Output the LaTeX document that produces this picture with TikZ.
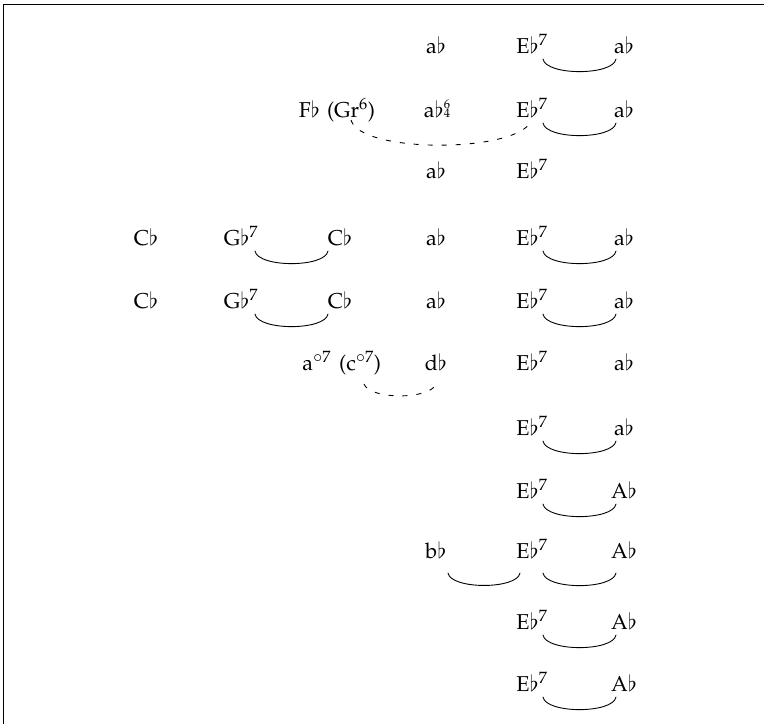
\documentclass[tikz,border=0pt]{standalone}
\usepackage[T1]{fontenc}
\usepackage{mathpazo}
% stacked figured-bass numbers (upper over lower)
\newcommand{\figstack}[2]{\rlap{\raisebox{9pt}{\fontsize{12.5}{12.5}\selectfont #1}}{\fontsize{12.5}{12.5}\selectfont #2}}
% diminished-seventh superscript
\newcommand{\dimsev}{$^{\mbox{\fontsize{17}{17}\selectfont$\circ$}\scriptstyle 7}$}
\begin{document}
\begin{tikzpicture}[x=1pt,y=1pt,
  chord/.style={font=\fontsize{21.5}{26}\selectfont, inner sep=0pt, outer sep=0pt, anchor=base},
  tie/.style={line width=0.9pt, line cap=round},
  link/.style={line width=0.9pt, dash pattern=on 5pt off 9pt}]
\useasboundingbox (0,0) rectangle (764,-724);
% frame edges
\draw[line width=1.3pt] (3.5,-724) -- (3.5,-4.5) -- (764,-4.5);

% row 1
\node[chord] (d1) at (436,-53) {a$\flat$};
\node[chord] (e1) at (532,-53) {E$\flat^7$};
\node[chord] (f1) at (624,-53) {a$\flat$};
% row 2
\node[chord] (g2) at (351,-117) {(Gr$^6$)};
\node[chord, anchor=base east] (c2) at ([xshift=-7pt]g2.base west) {F$\flat$};
\node[chord] (d2) at (437,-117) {a$\flat$\figstack{6}{4}};
\node[chord] (e2) at (532,-117) {E$\flat^7$};
\node[chord] (f2) at (624,-117) {a$\flat$};
% row 3
\node[chord] (d3) at (436,-178) {a$\flat$};
\node[chord] (e3) at (532,-178) {E$\flat^7$};
% row 4
\node[chord] (a4) at (146,-245) {C$\flat$};
\node[chord] (b4) at (241,-245) {G$\flat^7$};
\node[chord] (c4) at (340,-245) {C$\flat$};
\node[chord] (d4) at (436,-245) {a$\flat$};
\node[chord] (e4) at (532,-245) {E$\flat^7$};
\node[chord] (f4) at (624,-245) {a$\flat$};
% row 5
\node[chord] (a5) at (146,-308) {C$\flat$};
\node[chord] (b5) at (241,-308) {G$\flat^7$};
\node[chord] (c5) at (340,-308) {C$\flat$};
\node[chord] (d5) at (436,-308) {a$\flat$};
\node[chord] (e5) at (532,-308) {E$\flat^7$};
\node[chord] (f5) at (624,-308) {a$\flat$};
% row 6
\node[chord] (h6) at (360,-370) {(c\dimsev)};
\node[chord, anchor=base east] (c6) at ([xshift=-8pt]h6.base west) {a\dimsev};
\node[chord] (d6) at (436,-370) {d$\flat$};
\node[chord] (e6) at (532,-370) {E$\flat^7$};
\node[chord] (f6) at (624,-370) {a$\flat$};
% row 7
\node[chord] (e7) at (532,-435) {E$\flat^7$};
\node[chord] (f7) at (624,-435) {a$\flat$};
% row 8
\node[chord] (e8) at (532,-498) {E$\flat^7$};
\node[chord] (f8) at (624,-498) {A$\flat$};
% row 9
\node[chord] (d9) at (436,-558) {b$\flat$};
\node[chord] (e9) at (532,-558) {E$\flat^7$};
\node[chord] (f9) at (624,-558) {A$\flat$};
% row 10
\node[chord] (e10) at (532,-629) {E$\flat^7$};
\node[chord] (f10) at (624,-629) {A$\flat$};
% row 11
\node[chord] (e11) at (532,-691) {E$\flat^7$};
\node[chord] (f11) at (624,-691) {A$\flat$};

% solid ties between neighbouring chords
\foreach \l/\r/\dl/\dr/\dy in {e1/f1/11/-8/6, e2/f2/11/-8/6, b4/c4/14/-12/6, e4/f4/11/-8/6,
    b5/c5/14/-12/6, e5/f5/11/-8/6, e7/f7/11/-8/6, e8/f8/11/-8/6, d9/e9/12/-12/15,
    e9/f9/11/-8/15, e10/f10/11/-8/6, e11/f11/11/-8/6}
  \draw[tie] ([xshift=\dl pt,yshift=-\dy pt]\l.base) to[out=-80,in=-100,looseness=0.6]
             ([xshift=\dr pt,yshift=-\dy pt]\r.base);

% dashed links
\draw[link] ([yshift=-3pt]g2.base) to[out=-75,in=-105,looseness=0.5] ([yshift=-2pt]e2.base);
\draw[link] ([xshift=4pt,yshift=-14pt]h6.base) to[out=-70,in=-110,looseness=0.6] ([yshift=-14pt]d6.base);
\end{tikzpicture}
\end{document}
